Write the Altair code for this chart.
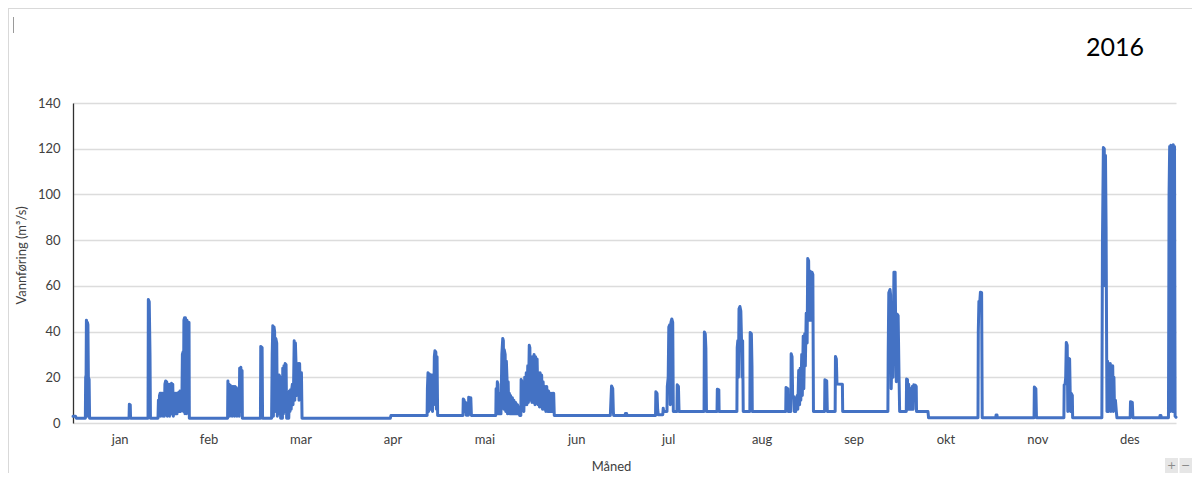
import json
import altair as alt
import pandas as pd

# ---- axis categories / ticks ----
month_names = ["jan", "feb", "mar", "apr", "mai", "jun", "jul", "aug", "sep", "okt", "nov", "des"]
month_mid = [15.5, 45, 75.5, 106, 136.5, 167, 197.5, 228.5, 259, 289.5, 320, 350.5]
y_ticks = [0, 20, 40, 60, 80, 100, 120, 140]
title_text = ["2016"]
zoom_buttons = ["+", "−"]

# ---- discharge series (day of year, m3/s) ----
jan_feb = [
    (0.0, 3.0), (0.8, 3.0), (1.1, 2.1), (4.1, 2.1), (4.2, 20), (4.35, 21), (4.45, 45), (4.6, 44), (4.7, 3),
    (4.8, 44), (4.95, 43), (5.1, 20), (5.35, 19), (5.5, 2.1),
    (18.6, 2.1), (18.7, 8.2), (19.0, 8.0), (19.1, 2.1),
    (24.9, 2.1), (25.0, 54), (25.3, 53), (25.55, 30), (25.7, 2.1),
    (28.2, 2.1), (28.35, 10), (28.5, 3), (28.7, 12), (28.9, 13), (29.1, 3), (29.3, 13), (29.5, 4), (29.7, 13),
    (29.9, 3), (30.1, 12), (30.3, 3), (30.5, 17), (30.75, 18.4), (30.9, 4), (31.1, 18), (31.3, 3), (31.5, 16),
    (31.7, 4), (31.9, 17), (32.1, 3), (32.3, 17), (32.5, 4), (32.7, 17.4), (32.9, 4), (33.1, 17), (33.3, 3),
    (33.5, 13), (33.7, 4), (33.9, 13), (34.1, 4), (34.3, 13), (34.5, 4), (34.7, 13), (34.9, 5), (35.1, 13.5),
    (35.3, 5), (35.5, 14), (35.7, 5), (35.9, 14), (36.1, 6), (36.3, 30), (36.5, 31), (36.65, 5), (36.8, 45),
    (37.0, 46), (37.15, 4), (37.3, 46), (37.5, 45), (37.65, 4), (37.8, 45), (38.0, 44), (38.15, 5), (38.3, 44),
    (38.5, 44), (38.6, 2.1),
    (51.3, 2.1), (51.4, 18.4), (51.6, 4), (51.8, 17), (52.0, 3), (52.2, 16.5), (52.4, 4), (52.6, 16), (52.8, 3),
    (53.0, 16), (53.2, 4), (53.4, 16), (53.6, 3), (53.8, 16), (54.0, 4), (54.2, 15.5), (54.4, 3), (54.6, 14),
    (54.8, 4), (55.0, 15), (55.15, 3), (55.3, 24), (55.5, 5), (55.7, 24.4), (55.9, 6), (56.1, 23), (56.2, 2.1),
    (62.2, 2.1), (62.3, 33.5), (62.75, 33), (62.9, 2.1),
]
mar_apr = [
    (65.9, 2.1), (66.1, 30), (66.3, 42.6), (66.5, 3), (66.7, 42), (66.9, 40), (67.1, 5), (67.3, 37), (67.6, 35),
    (67.8, 3), (68.0, 21), (68.2, 4), (68.4, 21), (68.7, 20), (68.9, 2.1), (69.5, 2.1), (69.6, 24), (69.8, 4),
    (70.0, 25), (70.2, 5), (70.4, 26), (70.7, 25.5), (70.9, 2.1), (71.6, 2.1), (71.8, 14), (72.0, 5), (72.2, 14.5),
    (72.4, 6), (72.6, 15), (72.8, 17), (73.0, 8), (73.2, 17), (73.4, 36), (73.6, 10), (73.8, 35), (74.0, 26),
    (74.2, 12), (74.4, 26), (74.6, 12), (74.8, 26), (75.0, 10), (75.2, 26), (75.4, 12), (75.6, 22), (75.8, 22),
    (76.0, 2.1),
    (105.3, 2.1), (105.5, 3.3),
    (117.5, 3.3), (117.6, 15), (117.8, 22), (118.0, 5), (118.2, 21.5), (118.4, 21), (118.6, 6), (118.8, 21),
    (119.1, 21), (119.3, 5), (119.5, 20), (119.7, 8), (119.9, 29), (120.1, 31.6), (120.4, 31), (120.6, 6),
    (120.8, 29), (121.0, 3.3),
]
mai_jun = [
    (129.4, 3.3), (129.5, 10.5), (129.8, 10), (130.0, 5), (130.3, 9), (130.5, 3.4), (131.2, 3.4), (131.3, 11.3),
    (131.6, 11), (131.8, 5), (132.0, 11), (132.2, 3.3),
    (140.3, 3.3), (140.4, 15), (140.6, 5), (140.8, 18), (141.0, 17), (141.2, 4), (141.4, 12), (141.6, 4),
    (141.8, 13), (142.0, 4), (142.3, 30), (142.6, 37), (142.8, 36), (143.0, 6), (143.1, 32), (143.4, 30),
    (143.6, 5), (143.8, 27), (144.0, 20), (144.2, 4), (144.4, 18), (144.6, 5), (144.8, 13), (145.0, 4),
    (145.2, 12), (145.5, 4), (145.8, 11), (146.0, 4), (146.3, 10), (146.6, 4), (146.9, 9), (147.2, 4),
    (147.5, 8), (147.8, 4), (148.0, 7), (148.2, 3.3),
    (148.6, 3.3), (148.7, 19), (149.0, 18), (149.2, 6), (149.4, 10), (149.6, 5), (149.9, 20), (150.1, 8),
    (150.4, 22), (150.6, 8), (150.9, 25), (151.1, 9), (151.4, 34), (151.6, 33), (151.8, 10), (152.0, 28),
    (152.3, 9), (152.5, 29), (152.8, 9), (153.0, 30), (153.3, 8), (153.5, 29), (153.8, 9), (154.0, 28),
    (154.3, 8), (154.5, 22), (154.8, 7), (155.0, 22), (155.3, 7), (155.5, 21), (155.8, 6), (156.0, 18),
    (156.3, 6), (156.6, 16), (156.9, 5), (157.2, 16), (157.5, 5), (157.8, 14), (158.1, 5), (158.4, 13),
    (158.7, 5), (159.0, 13), (159.3, 5), (159.5, 13), (159.7, 3.3),
    (178.3, 3.3), (178.5, 10), (178.7, 16.2), (179.1, 15), (179.3, 5), (179.4, 3.3),
    (183.2, 3.3), (183.3, 4.2), (183.7, 4.2), (183.8, 3.3),
]
jul_aug = [
    (193.3, 3.3), (193.4, 13.7), (193.8, 13), (194.0, 6), (194.2, 3.6), (195.7, 3.6), (195.85, 6.5), (196.0, 5),
    (197.1, 5), (197.2, 16), (197.5, 20), (197.7, 42), (198.0, 43), (198.2, 8), (198.4, 44), (198.7, 45.5),
    (199.0, 44), (199.2, 5),
    (200.4, 5), (200.5, 16.7), (200.9, 16), (201.1, 5),
    (209.4, 5), (209.5, 39.8), (209.8, 39), (210.0, 32.8), (210.2, 5),
    (213.7, 5), (213.8, 14.8), (214.3, 14.5), (214.4, 5),
    (220.3, 5), (220.4, 33), (220.6, 36), (220.8, 20), (221.0, 50), (221.3, 51), (221.6, 49), (221.8, 38),
    (222.0, 20), (222.2, 36), (222.4, 5),
    (224.6, 5), (224.7, 39.6), (225.1, 39), (225.3, 25), (225.4, 5),
    (236.5, 5), (236.6, 15.5), (237.2, 15), (237.3, 5), (238.2, 5), (238.3, 30.3), (238.6, 29), (238.8, 11),
    (239.2, 11.5), (239.4, 5), (239.8, 5), (240.0, 10), (240.3, 12), (240.5, 6), (240.8, 23), (241.1, 8),
    (241.3, 24), (241.5, 10), (241.8, 30), (242.0, 12), (242.3, 38), (242.5, 15), (242.8, 39), (243.0, 25),
    (243.3, 48), (243.6, 35), (243.8, 72), (244.1, 71), (244.3, 45), (244.5, 66.5), (244.8, 66), (245.0, 45),
    (245.2, 66), (245.5, 65), (245.7, 5),
]
sep_okt = [
    (249.4, 5), (249.5, 18.9), (250.1, 18.5), (250.3, 5),
    (252.9, 5), (253.0, 29.1), (253.3, 28), (253.5, 17.1), (255.3, 17), (255.4, 5),
    (270.4, 5), (270.5, 30), (270.7, 57), (271.1, 58.4), (271.3, 56), (271.5, 15), (271.8, 35), (272.1, 20),
    (272.4, 66), (272.8, 66), (273.0, 40), (273.2, 18), (273.4, 47.7), (273.8, 47), (274.1, 20), (274.3, 5),
    (276.5, 5), (276.6, 19.2), (276.9, 19), (277.1, 6), (277.3, 17), (277.6, 6), (277.9, 15), (278.2, 6),
    (278.5, 16), (278.8, 6), (279.0, 16.7), (279.5, 16.5), (279.8, 16), (279.9, 5),
    (283.7, 5), (283.9, 2.3),
    (300.3, 2.3), (300.4, 40), (300.6, 53.2), (300.9, 53), (301.1, 57.2), (301.5, 57), (301.7, 2.3),
    (306.2, 2.3), (306.3, 3.5), (306.6, 3.5), (306.7, 2.3),
]
nov_des = [
    (318.9, 2.3), (319.0, 15.7), (319.5, 15), (319.7, 2.3),
    (328.8, 2.3), (328.9, 16.7), (329.2, 17), (329.4, 20), (329.6, 35.2), (329.9, 34), (330.1, 5), (330.3, 28.4),
    (330.7, 28), (331.0, 5), (331.2, 13), (331.6, 12), (331.7, 2.3),
    (341.4, 2.3), (341.6, 80), (341.9, 120.5), (342.2, 120), (342.4, 60), (342.6, 117), (342.8, 86), (343.0, 28),
    (343.1, 5), (343.3, 27), (343.5, 20), (343.6, 5), (343.8, 25), (344.0, 8), (344.2, 26), (344.4, 5),
    (344.6, 25), (344.8, 6), (345.0, 25), (345.2, 5), (345.4, 20), (345.6, 6), (345.9, 10), (346.2, 5),
    (346.4, 2.3),
    (350.8, 2.3), (350.9, 9.3), (351.5, 9), (351.7, 2.3),
    (360.6, 2.3), (360.7, 3.3), (361.0, 3.3), (361.1, 2.3),
    (363.5, 2.3), (363.7, 100), (363.9, 121), (364.1, 5), (364.3, 121.5), (364.5, 10), (364.7, 121), (364.9, 5),
    (365.1, 121.7), (365.3, 8), (365.5, 121), (365.7, 3), (366.0, 2.5),
]

points = jan_feb + mar_apr + mai_jun + jul_aug + sep_okt + nov_des
df = pd.DataFrame(points, columns=["dag", "vannforing"])

FONT = "Lato"
GREY = "#404040"

label_expr = "{}[indexof({}, datum.value)]".format(json.dumps(month_names), json.dumps(month_mid))

line = alt.Chart(df).mark_line(color="#4472C4", strokeWidth=3, strokeJoin="round", strokeCap="round").encode(
    x=alt.X("dag:Q",
            scale=alt.Scale(domain=[0, 366], nice=False, zero=False),
            axis=alt.Axis(values=month_mid, labelExpr=label_expr, ticks=False, domain=False, grid=False,
                          labelFlush=False, labelPadding=10, labelFont=FONT, labelFontSize=13,
                          labelColor=GREY, title="Måned", titleFont=FONT, titleFontSize=13,
                          titleFontWeight="normal", titleColor=GREY, titleX=538, titleY=43,
                          titleBaseline="middle")),
    y=alt.Y("vannforing:Q",
            scale=alt.Scale(domain=[0, 140], nice=False),
            axis=alt.Axis(values=y_ticks, ticks=False, domain=True, domainColor="#303030", domainWidth=1.3,
                          grid=True, gridColor="#dcdcdc", gridWidth=1.3, labelPadding=13, labelFont=FONT,
                          labelFontSize=13, labelColor=GREY, title="Vannføring (m³/s)", titleFont=FONT,
                          titleFontSize=13, titleFontWeight="normal", titleColor=GREY, titleX=-52,
                          titleY=152, titleBaseline="middle")),
    order="dag:Q",
)

year_label = alt.Chart(pd.DataFrame({"t": title_text})).mark_text(
    font=FONT, fontSize=25, color="black", align="center", baseline="middle"
).encode(text="t:N", x=alt.value(1042), y=alt.value(-55))

one = pd.DataFrame({"a": [0]})
frame_top = alt.Chart(one).mark_rule(color="#d9d9d9", strokeWidth=1).encode(
    x=alt.value(-65), x2=alt.value(1119), y=alt.value(-94.5))
frame_left = alt.Chart(one).mark_rule(color="#d9d9d9", strokeWidth=1).encode(
    x=alt.value(-64.5), y=alt.value(-95), y2=alt.value(370))
mark_tl = alt.Chart(one).mark_rule(color="#9a9a9a", strokeWidth=1).encode(
    x=alt.value(-59.5), y=alt.value(-86), y2=alt.value(-70))

# small zoom buttons in the lower right corner of the screenshot
btn_plus = alt.Chart(one).mark_rect(color="#e6e6e6").encode(
    x=alt.value(1092), x2=alt.value(1105), y=alt.value(355), y2=alt.value(370))
btn_minus = alt.Chart(one).mark_rect(color="#e6e6e6").encode(
    x=alt.value(1106.5), x2=alt.value(1119), y=alt.value(355), y2=alt.value(370))
btn_plus_t = alt.Chart(pd.DataFrame({"t": zoom_buttons[:1]})).mark_text(
    font="DejaVu Sans", fontSize=11, color="#8a8a8a", align="center", baseline="middle"
).encode(text="t:N", x=alt.value(1098.5), y=alt.value(362.5))
btn_minus_t = alt.Chart(pd.DataFrame({"t": zoom_buttons[1:]})).mark_text(
    font="DejaVu Sans", fontSize=11, color="#8a8a8a", align="center", baseline="middle"
).encode(text="t:N", x=alt.value(1112.7), y=alt.value(362.5))

chart = alt.layer(frame_top, frame_left, mark_tl, btn_plus, btn_minus, btn_plus_t, btn_minus_t,
                  line, year_label).properties(
    width=1103,
    height=320,
    autosize=alt.AutoSizeParams(type="none"),
    padding={"left": 65, "top": 95, "right": 16, "bottom": 50},
    background="white",
).configure_view(stroke=None)

chart.save("out.html", embed_options={"renderer": "svg", "actions": False})
